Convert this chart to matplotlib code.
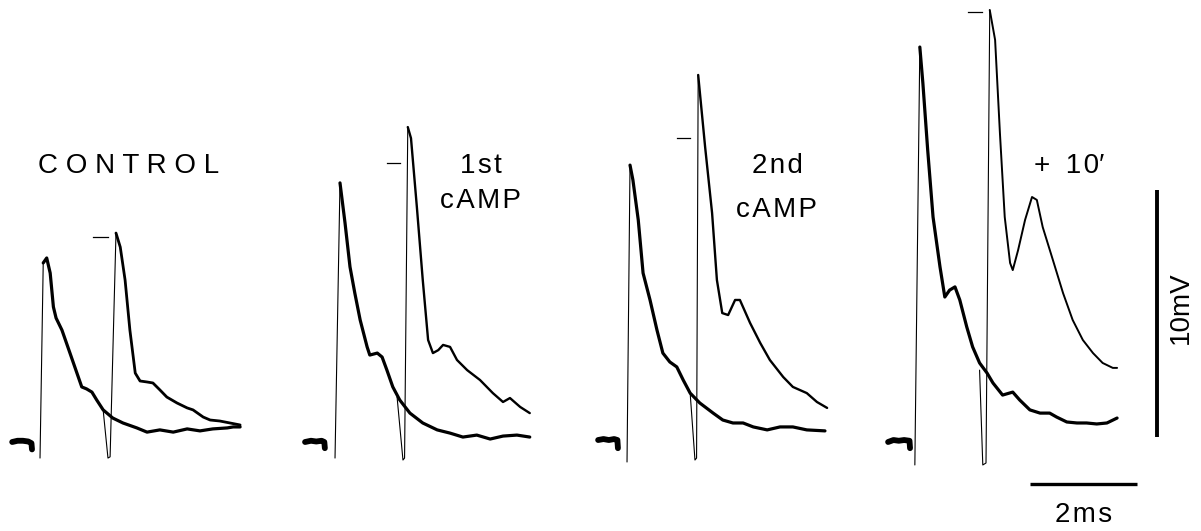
import matplotlib
matplotlib.use("Agg")
import matplotlib.pyplot as plt

# ---------------- data (time in ms from first stimulus, voltage in mV from baseline) -------------
# CONTROL
control_base_t = [-0.52, -0.42, -0.32, -0.22, -0.16, -0.15]
control_base_v = [0.0, 0.05, 0.05, 0.02, -0.05, -0.30]
control_r1_t = [0.0, 0.06, 0.125, 0.19, 0.25, 0.30, 0.41, 0.56, 0.69, 0.78, 0.87, 0.97, 1.06, 1.18,
                1.36, 1.55, 1.81, 2.00, 2.24, 2.49, 2.75, 2.99, 3.23, 3.50, 3.61, 3.74]
control_r1_v = [-0.65, 7.25, 7.45, 6.84, 5.47, 5.02, 4.53, 3.60, 2.79, 2.23, 2.15, 2.02, 1.70, 1.30,
                0.97, 0.77, 0.57, 0.40, 0.49, 0.40, 0.53, 0.45, 0.53, 0.57, 0.61, 0.61]
control_r2_t = [1.18, 1.27, 1.31, 1.42, 1.50, 1.59, 1.68, 1.78, 1.87, 2.00, 2.11, 2.24, 2.37, 2.56,
                2.75, 2.86, 3.05, 3.18, 3.36, 3.55, 3.74]
control_r2_v = [1.30, -0.65, -0.60, 8.46, 7.89, 6.56, 4.53, 2.79, 2.47, 2.43, 2.39, 2.11, 1.82, 1.58,
                1.38, 1.30, 1.01, 0.89, 0.85, 0.77, 0.69]
control_mark_t = [0.99, 1.27]
control_mark_v = 8.30

# 1st cAMP
camp1_base_t = [-0.56, -0.45, -0.35, -0.25, -0.20, -0.19]
camp1_base_v = [0.0, 0.05, 0.02, 0.05, 0.0, -0.25]
camp1_r1_t = [0.0, 0.093, 0.187, 0.28, 0.37, 0.47, 0.60, 0.65, 0.79, 0.88, 0.97, 1.08, 1.21, 1.40,
              1.64, 1.91, 2.15, 2.39, 2.65, 2.90, 3.14, 3.40, 3.64]
camp1_r1_v = [-0.65, 10.49, 8.87, 7.09, 6.03, 4.94, 3.85, 3.52, 3.60, 3.44, 2.91, 2.23, 1.70, 1.17,
              0.77, 0.49, 0.36, 0.20, 0.28, 0.12, 0.24, 0.28, 0.20]
camp1_r2_t = [1.16, 1.27, 1.30, 1.36, 1.42, 1.53, 1.64, 1.74, 1.83, 1.93, 2.02, 2.15, 2.28, 2.47,
              2.71, 2.95, 3.14, 3.27, 3.46, 3.64]
camp1_r2_v = [1.82, -0.73, -0.65, 12.75, 12.30, 9.51, 6.56, 4.13, 3.60, 3.72, 3.93, 3.85, 3.32, 2.91,
              2.51, 1.98, 1.62, 1.78, 1.42, 1.17]
camp1_mark_t = [0.97, 1.21]
camp1_mark_v = 11.30

# 2nd cAMP
camp2_base_t = [-0.54, -0.44, -0.34, -0.24, -0.18, -0.17]
camp2_base_v = [0.08, 0.12, 0.08, 0.12, 0.08, -0.25]
camp2_r1_t = [0.0, 0.056, 0.11, 0.21, 0.30, 0.43, 0.56, 0.67, 0.80, 0.93, 1.05, 1.18, 1.36, 1.61,
              1.79, 1.98, 2.17, 2.36, 2.62, 2.86, 3.10, 3.36, 3.70]
camp2_r1_v = [-0.81, 11.21, 10.61, 8.99, 6.84, 5.75, 4.53, 3.60, 3.24, 3.04, 2.51, 1.98, 1.58, 1.17,
              0.89, 0.77, 0.77, 0.61, 0.49, 0.61, 0.61, 0.49, 0.45]
camp2_r2_t = [1.18, 1.27, 1.30, 1.33, 1.46, 1.59, 1.68, 1.78, 1.89, 2.02, 2.11, 2.30, 2.49, 2.67,
              2.92, 3.10, 3.36, 3.55, 3.74]
camp2_r2_v = [1.98, -0.73, -0.65, 14.86, 11.94, 9.27, 6.56, 5.22, 5.14, 5.75, 5.75, 4.82, 4.01, 3.32,
              2.63, 2.23, 1.98, 1.62, 1.38]
camp2_mark_t = [0.93, 1.18]
camp2_mark_v = 12.31

# + 10'
late_base_t = [-0.50, -0.40, -0.30, -0.20, -0.10, -0.09]
late_base_v = [0.0, 0.08, 0.05, 0.08, 0.05, -0.25]
late_r1_t = [0.0, 0.093, 0.15, 0.24, 0.34, 0.47, 0.56, 0.65, 0.75, 0.84, 0.97, 1.08, 1.21, 1.35,
             1.46, 1.64, 1.83, 1.96, 2.15, 2.34, 2.52, 2.65, 2.84, 3.03, 3.21, 3.40, 3.59, 3.78]
late_r1_v = [-0.93, 15.99, 14.53, 11.82, 9.11, 7.09, 5.87, 6.15, 6.28, 5.75, 4.66, 3.85, 3.20, 2.79,
             2.39, 1.90, 2.02, 1.70, 1.30, 1.17, 1.17, 1.01, 0.81, 0.77, 0.77, 0.73, 0.77, 0.97]
late_r2_t = [1.21, 1.27, 1.33, 1.40, 1.50, 1.59, 1.68, 1.78, 1.83, 1.93, 2.06, 2.19, 2.28, 2.39,
             2.58, 2.77, 2.95, 3.14, 3.33, 3.51, 3.70, 3.78]
late_r2_v = [2.91, -0.93, -0.85, 17.49, 16.28, 12.51, 9.11, 7.25, 6.96, 7.77, 8.99, 9.92, 9.80, 8.70,
             7.37, 6.03, 4.94, 4.13, 3.60, 3.20, 3.00, 3.00]
late_mark_t = [0.99, 1.25]
late_mark_v = 17.41

HS = "\u200a"  # hair space for letter spacing
panel_labels = [["C O N T R O L"],
                [HS.join("1st"), HS.join("cAMP")],
                [HS.join("2nd"), HS.join("cAMP")],
                ["+  1" + HS + "0\u2032"]]
scale_ms = 2
scale_mV = 10
scale_labels = [HS.join("2ms"), "10mV"]

# ---------------- layout ----------------
PX_PER_MS = 53.5
PX_PER_MV = 24.7
W, H = 1201, 531
BASE_Y = 442
panel_offsets = [0.748, 6.262, 11.72, 17.10]  # ms, position of each panel's first stimulus
# label anchors (pixel x, alignment, baselines in pixel y per line)
label_layout = [(38, "left", [173]),
                (481, "center", [173, 208]),
                (777, "center", [173, 217]),
                (1034, "left", [173])]

panels = [
    (control_base_t, control_base_v, control_r1_t, control_r1_v, control_r2_t, control_r2_v, control_mark_t, control_mark_v, 2.0),
    (camp1_base_t, camp1_base_v, camp1_r1_t, camp1_r1_v, camp1_r2_t, camp1_r2_v, camp1_mark_t, camp1_mark_v, 1.7),
    (camp2_base_t, camp2_base_v, camp2_r1_t, camp2_r1_v, camp2_r2_t, camp2_r2_v, camp2_mark_t, camp2_mark_v, 1.7),
    (late_base_t, late_base_v, late_r1_t, late_r1_v, late_r2_t, late_r2_v, late_mark_t, late_mark_v, 1.4),
]

plt.rcParams['font.family'] = ['Liberation Sans', 'DejaVu Sans']

fig = plt.figure(figsize=(W / 100, H / 100), dpi=100)
ax = fig.add_axes([0, 0, 1, 1])
ax.set_xlim(0, W / PX_PER_MS)
ax.set_ylim((BASE_Y - H) / PX_PER_MV, BASE_Y / PX_PER_MV)
ax.axis("off")

kw = dict(color="black", solid_capstyle="round", solid_joinstyle="round")
for off, (bt, bv, t1, v1, t2, v2, mt, mv, lw2) in zip(panel_offsets, panels):
    ax.plot([off + t for t in bt], bv, lw=4.2, **kw)
    # first response: thin upstroke, thick decay
    ax.plot([off + t for t in t1[:2]], v1[:2], lw=0.8, **kw)
    ax.plot([off + t for t in t1[1:]], v1[1:], lw=2.3, **kw)
    # second response: thin artifact and upstroke, then decay
    ax.plot([off + t for t in t2[:4]], v2[:4], lw=0.8, **kw)
    ax.plot([off + t for t in t2[3:]], v2[3:], lw=lw2, **kw)
    # peak marker
    ax.plot([off + t for t in mt], [mv, mv], lw=0.9, color="black")

fs = 20
for lines, (px, ha, ys) in zip(panel_labels, label_layout):
    for line, py in zip(lines, ys):
        ax.text(px / PX_PER_MS, (BASE_Y - py) / PX_PER_MV, line, fontsize=fs,
                ha=ha, va="baseline")

# scale bars
sb_x = 1157 / PX_PER_MS
sb_y0 = (BASE_Y - 437) / PX_PER_MV
ax.plot([sb_x, sb_x], [sb_y0, sb_y0 + scale_mV], lw=2.8, color="black", solid_capstyle="butt")
hb_x0 = 1030 / PX_PER_MS
hb_y = (BASE_Y - 484) / PX_PER_MV
ax.plot([hb_x0, hb_x0 + scale_ms], [hb_y, hb_y], lw=2.4, color="black", solid_capstyle="butt")
ax.text(hb_x0 + scale_ms / 2, (BASE_Y - 522) / PX_PER_MV, scale_labels[0], fontsize=fs,
        ha="center", va="baseline")
ax.text(1181 / PX_PER_MS, (BASE_Y - 308) / PX_PER_MV, scale_labels[1], fontsize=fs,
        ha="center", va="center", rotation=90)

fig.savefig("out.png", dpi=100)
